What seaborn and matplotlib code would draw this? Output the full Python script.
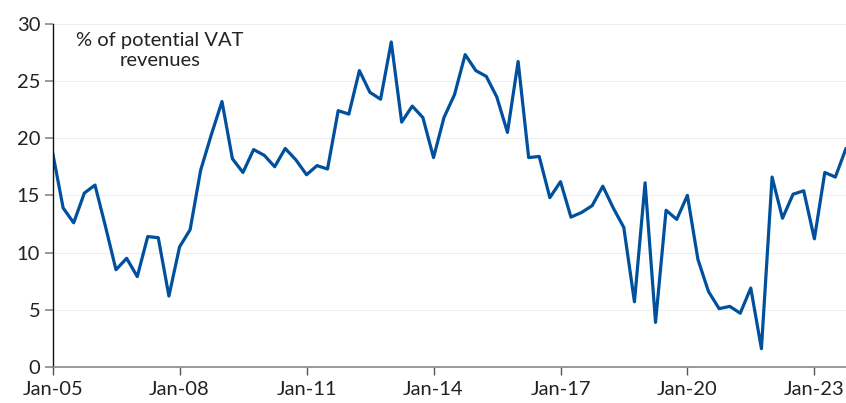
import matplotlib
matplotlib.use("Agg")
import matplotlib.pyplot as plt
import seaborn as sns
import pandas as pd

# Quarterly data, 2005Q1 .. 2023Q4
start_date = "2005-01-01"
vat_gap = [
    18.7, 13.9, 12.6, 15.2, 15.9, 12.3, 8.5, 9.5, 7.9, 11.4, 11.3, 6.2,
    10.5, 12.0, 17.2, 20.3, 23.2, 18.2, 17.0, 19.0, 18.5, 17.5, 19.1, 18.1,
    16.8, 17.6, 17.3, 22.4, 22.1, 25.9, 24.0, 23.4, 28.4, 21.4, 22.8, 21.8,
    18.3, 21.8, 23.8, 27.3, 25.9, 25.4, 23.6, 20.5, 26.7, 18.3, 18.4, 14.8,
    16.2, 13.1, 13.5, 14.1, 15.8, 13.9, 12.2, 5.7, 16.1, 3.9, 13.7, 12.9,
    15.0, 9.4, 6.6, 5.1, 5.3, 4.7, 6.9, 1.6, 16.6, 13.0, 15.1, 15.4,
    11.2, 17.0, 16.6, 19.1,
]
tick_years = [2005, 2008, 2011, 2014, 2017, 2020, 2023]
tick_labels = ["Jan-05", "Jan-08", "Jan-11", "Jan-14", "Jan-17", "Jan-20", "Jan-23"]
y_ticks = [0, 5, 10, 15, 20, 25, 30]
annotation = "% of potential VAT\nrevenues"

dates = pd.date_range(start_date, periods=len(vat_gap), freq="QS")
df = pd.DataFrame({"date": dates, "value": vat_gap})

sns.set_theme(style="white")
plt.rcParams["font.family"] = ["Lato", "DejaVu Sans"]

fig = plt.figure(figsize=(8.46, 4.03), dpi=100)
ax = fig.add_axes([0.0623, 0.0893, 0.9377, 0.8519])

sns.lineplot(data=df, x="date", y="value", ax=ax, color="#00509E", linewidth=2.3)

ax.set_ylim(0, 30)
ax.set_xlim(dates[0], dates[-1])
ax.set_yticks(y_ticks)
ax.set_yticklabels([str(v) for v in y_ticks], fontsize=14.5, color="#222222")
ticks = [pd.Timestamp(f"{y}-01-01") for y in tick_years]
ax.set_xticks(ticks)
ax.set_xticklabels(tick_labels, fontsize=14.5, color="#222222")
ax.set_xlabel("")
ax.set_ylabel("")

ax.grid(axis="y", color="#eeeeee", linewidth=0.8)
ax.grid(axis="x", visible=False)
for s in ["top", "right"]:
    ax.spines[s].set_visible(False)
ax.spines["left"].set_color("#111111")
ax.spines["left"].set_linewidth(1.0)
ax.spines["bottom"].set_color("#888888")
ax.spines["bottom"].set_linewidth(1.2)
ax.tick_params(axis="y", length=6, width=1.2, color="#888888", pad=3, left=True)
ax.tick_params(axis="x", length=6, width=1.0, color="#555555", pad=4, bottom=True)

ax.text(0.135, 0.975, annotation, transform=ax.transAxes, ha="center", va="top",
        fontsize=14.5, color="#222222", linespacing=1.2)

fig.savefig("out.png", dpi=100)
